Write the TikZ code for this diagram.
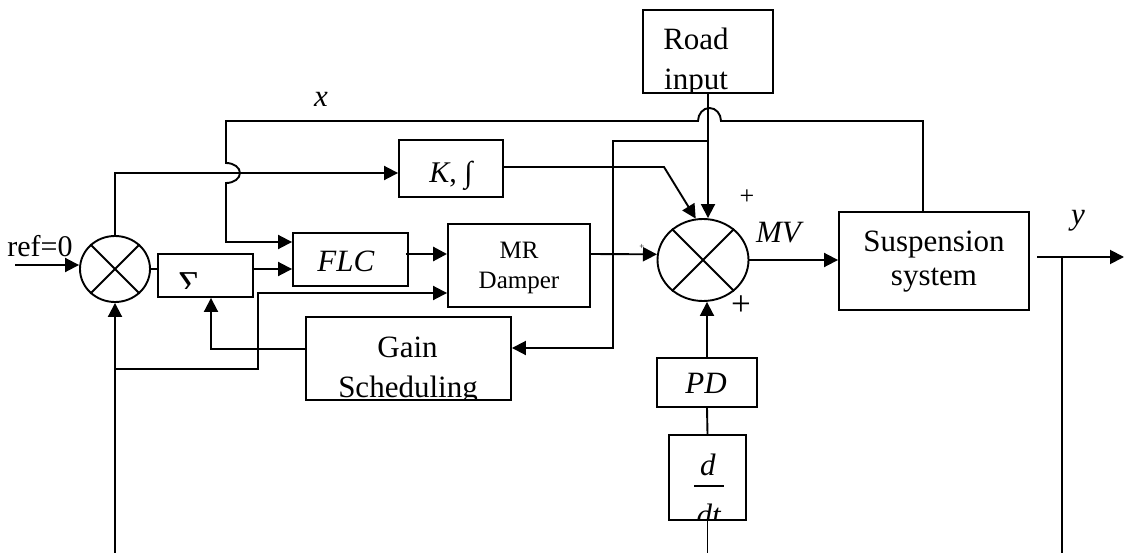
\documentclass[tikz,border=0pt]{standalone}
\usepackage{fontspec}
\setmainfont{Liberation Serif}
\usetikzlibrary{arrows.meta,shapes.geometric,calc}
\newcommand\myfs[1]{\fontsize{#1}{#1}\selectfont}
\begin{document}
\begin{tikzpicture}[x=1pt,y=-1pt,
  line width=1.9pt,
  blk/.style={draw,rectangle,inner sep=0pt,line width=1.9pt},
  sumj/.style={draw,ellipse,inner sep=0pt,line width=1.9pt},
  arr/.style={-{Triangle[length=14pt,width=14pt]}},
  lbl/.style={inner sep=0pt,anchor=base},
]
\useasboundingbox (0,0) rectangle (1124,553);

% blocks
\node[sumj,minimum width=70pt,minimum height=66pt] (s1) at (115,269) {};
\draw (s1.45)--(s1.225) (s1.135)--(s1.315);
\node[blk,minimum width=95pt,minimum height=43pt] (sig) at (205.5,275.5) {};
\node[blk,minimum width=115pt,minimum height=53pt] (flc) at (350.5,259.5) {};
\node[blk,minimum width=142pt,minimum height=83pt] (mr) at (519,265.5) {};
\node[blk,minimum width=205pt,minimum height=83pt] (gs) at (408.5,358.5) {};
\node[blk,minimum width=104pt,minimum height=57pt] (k) at (451,168.5) {};
\node[blk,minimum width=130pt,minimum height=83pt] (road) at (708,51.5) {};
\node[sumj,minimum width=91pt,minimum height=82pt] (s2) at (703,260) {};
\draw (s2.45)--(s2.225) (s2.135)--(s2.315);
\node[blk,minimum width=190pt,minimum height=98pt] (susp) at (934,261) {};
\node[blk,minimum width=100pt,minimum height=49pt] (pd) at (707,382.5) {};
\node[blk,minimum width=77pt,minimum height=85pt] (dd) at (707.5,477.5) {};

% texts
\node[lbl] (tref) at (40,257) {\myfs{30}ref=0};
\node[lbl] (tx) at (321,107) {\myfs{31}\textit{x}};
\node[lbl] (ty) at (1078,225) {\myfs{31}\textit{y}};
\node[lbl] (tk) at (451,183) {\myfs{30}\textit{K}, ∫};
\node[lbl] (tflc) at (346,272) {\myfs{31}\textit{FLC}};
\node[lbl] (tmr1) at (519,259) {\myfs{25}MR};
\node[lbl] (tmr2) at (519,288) {\myfs{25}Damper};
\node[lbl] (tsus1) at (934,252) {\myfs{31}Suspension};
\node[lbl] (tsus2) at (934,286) {\myfs{31}system};
\node[lbl] (tpd) at (706,393) {\myfs{31}\textit{PD}};
\node[lbl] (tmv) at (780,243) {\myfs{31}\textit{MV}};
\node[lbl] (p1) at (747,205) {\myfs{26}+};
\node[lbl] (p2) at (741,316) {\myfs{35}+};
\node[lbl] (p3) at (642,250) {\myfs{9}+};

\coordinate (sigclip) at (253,289);
\begin{scope}
\clip (sig.north west) rectangle (sigclip);
\node[lbl] (tsig) at (190,298) {\myfs{38}Σ};
\end{scope}
\begin{scope}
\clip (road.south west) rectangle (road.north east);
\node[lbl] (troad1) at (696,50) {\myfs{31}Road};
\node[lbl] (troad2) at (696,90) {\myfs{31}input};
\end{scope}
\begin{scope}
\clip (gs.south west) rectangle (gs.north east);
\node[lbl] (tgs1) at (407.5,357) {\myfs{31}Gain};
\node[lbl] (tgs2) at (408,397) {\myfs{31}Scheduling};
\end{scope}
\begin{scope}
\clip (dd.south west) rectangle (dd.north east);
\node[lbl] (tdd1) at (708,475) {\myfs{31}\textit{d}};
\draw[line width=1.4pt] (694,486) -- (724,486);
\node[lbl] (tdd2) at (709,525) {\myfs{31}\textit{dt}};
\end{scope}

% connectors
\coordinate (refin) at (15,265);
\draw[arr] (refin) -- (refin -| s1.west);
\draw (s1.east) -- (s1.east -| sig.west);
\draw[arr] (sig.east |- s1.east) -- (flc.west |- s1.east);
\draw[arr] (s1.north) |- ([yshift=-4.5pt]k.west);

\coordinate (xtop) at (923,121);
\coordinate (xj1) at (721,121);
\coordinate (xcl) at (226,121);
\coordinate (xj2) at (226,163);
\coordinate (xflc) at (226,242);
\draw[arr] ([xshift=-11pt]susp.north) -- (xtop) -- (xj1)
  arc[start angle=0,end angle=180,x radius=11.5pt,y radius=13pt] -- (xcl) -- (xj2)
  arc[start angle=90,end angle=-90,x radius=14pt,y radius=10pt] -- (xflc) -- (xflc -| flc.west);

\coordinate (kbend) at (664,167);
\draw[arr] (k.east |- kbend) -- (kbend) -- (s2.100);

\draw[arr] (road.south) -- (road.south |- s2.north);
\coordinate (tap) at (708,141);
\coordinate (tapc) at (613,141);
\draw[arr] (tap) -- (tapc) |- ([yshift=10.5pt]gs.east);

\coordinate (gsig) at (211,349);
\draw[arr] ([yshift=9.5pt]gs.west) -- (gsig) -- (gsig |- sig.south);

\coordinate (flco) at ([yshift=5.5pt]flc.east);
\draw[arr,line width=2.8pt] ([xshift=-3pt]flco) -- (flco -| mr.west);

\draw[arr] ([yshift=11.5pt]mr.east) -- (s2.173);
\draw[arr] (s2.east) -- (s2.east -| susp.west);

\coordinate (yo1) at (1037,257);
\coordinate (yout) at (1124,257);
\draw[arr] (yo1) -- (yout);
\coordinate (ytap) at (1062,257);
\coordinate (ybot) at (1062,553);
\draw (ytap) -- (ybot);

\coordinate (fbb) at (115,553);
\coordinate (fbj) at (115,369);
\coordinate (fbk) at (258,369);
\draw[arr] (fbb) -- (s1.south);
\draw[arr] (fbj) -- (fbk) |- ([yshift=-27.5pt]mr.west);

\draw[arr] (pd.north) -- (pd.north |- s2.south);
\draw (dd.north) -- (pd.south);
\coordinate (ddb) at (707.5,553);
\draw (dd.south) -- (ddb);
\end{tikzpicture}
\end{document}
